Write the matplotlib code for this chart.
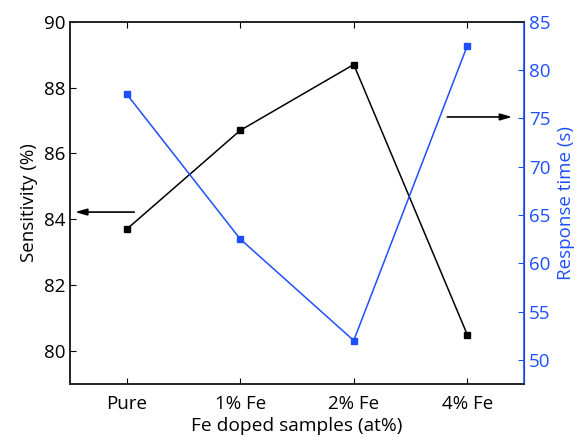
import matplotlib
matplotlib.use("Agg")
import matplotlib.pyplot as plt

categories = ["Pure", "1% Fe", "2% Fe", "4% Fe"]
sensitivity = [83.7, 86.7, 88.7, 80.5]
response_time = [77.5, 62.5, 52.0, 82.5]
left_ticks = [80, 82, 84, 86, 88, 90]
right_ticks = [50, 55, 60, 65, 70, 75, 80, 85]

BLUE = "#1f4fff"
plt.rcParams['font.family'] = ['Open Sans', 'DejaVu Sans']

fig = plt.figure(figsize=(5.78, 4.37), dpi=100)
ax = fig.add_axes([70/578, 1-384/437, (524-70)/578, (384-21.7)/437])
x = list(range(len(categories)))
ax.plot(x, sensitivity, color="black", lw=1.1, marker="s", ms=4.5)
ax.set_xlim(-0.5, 3.5)
ax.set_ylim(79, 90)
ax.set_yticks(left_ticks)
ax.set_xticks(x)
ax.set_xticklabels(categories)
ax.tick_params(direction="in", length=4, labelsize=13.5, top=True, width=0.8)
ax.tick_params(axis="x", pad=8)
ax.set_ylabel("Sensitivity (%)", fontsize=13.5, labelpad=4)
ax.set_xlabel("Fe doped samples (at%)", fontsize=13.8, labelpad=3)

ax2 = ax.twinx()
ax2.plot(x, response_time, color=BLUE, lw=1.1, marker="s", ms=4.5)
ax2.set_ylim(47.5, 85)
ax2.set_yticks(right_ticks)
ax2.tick_params(direction="in", length=4, labelsize=13.5, colors=BLUE, width=0.8)
ax2.spines["right"].set_color(BLUE)
ax2.spines["right"].set_linewidth(1.2)
ax2.set_ylabel("Response time (s)", fontsize=13.5, color=BLUE, labelpad=5)

for a in (ax, ax2):
    for s in ("left", "top", "bottom"):
        a.spines[s].set_linewidth(1.2)
        a.spines[s].set_color("#222222")

ax.annotate("", xy=(-0.48, 84.22), xytext=(0.09, 84.22),
            arrowprops=dict(arrowstyle="-|>,head_length=0.7,head_width=0.2",
                            color="black", lw=1.2, mutation_scale=10))
ax2.annotate("", xy=(3.42, 75.14), xytext=(2.8, 75.14),
             arrowprops=dict(arrowstyle="-|>,head_length=0.7,head_width=0.2",
                             color="black", lw=1.2, mutation_scale=10))

fig.savefig("out.png", dpi=100)
